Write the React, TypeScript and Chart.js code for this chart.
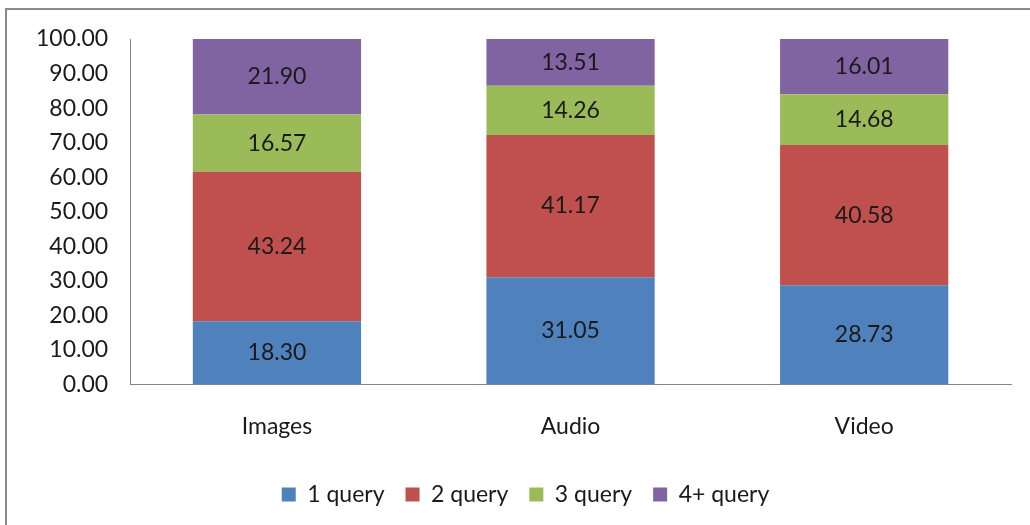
import React, { useEffect, useRef } from "react";
import { Chart, registerables } from "chart.js";

Chart.register(...registerables);

const categories = ["Images", "Audio", "Video"];
const seriesNames = ["1 query", "2 query", "3 query", "4+ query"];
const query1 = [18.3, 31.05, 28.73];
const query2 = [43.24, 41.17, 40.58];
const query3 = [16.57, 14.26, 14.68];
const query4 = [21.9, 13.51, 16.01];
const seriesColors = ["#4F81BD", "#C0504D", "#9BBB59", "#8064A2"];

const FONT = "Lato, 'Open Sans', sans-serif";

const valueLabels = {
  id: "valueLabels",
  afterDatasetsDraw(chart: any) {
    const ctx = chart.ctx;
    ctx.save();
    ctx.font = `23px ${FONT}`;
    ctx.fillStyle = "#1a1a1a";
    ctx.textAlign = "center";
    ctx.textBaseline = "middle";
    chart.data.datasets.forEach((ds: any, di: number) => {
      const meta = chart.getDatasetMeta(di);
      meta.data.forEach((el: any, i: number) => {
        const v = ds.data[i];
        const cy = (el.y + el.base) / 2;
        ctx.fillText(Number(v).toFixed(2), el.x, cy);
      });
    });
    ctx.restore();
  },
};

const legendShift = {
  id: "legendShift",
  afterLayout(chart: any) {
    const lg = chart.legend;
    if (!lg) return;
    lg.left += 13;
    lg.right += 13;
    lg.top -= 6;
    lg.bottom -= 6;
  },
};

export default function App() {
  const ref = useRef<HTMLCanvasElement | null>(null);
  useEffect(() => {
    if (!ref.current) return;
    const data = [query1, query2, query3, query4];
    const chart = new Chart(ref.current, {
      type: "bar",
      data: {
        labels: categories,
        datasets: seriesNames.map((name, k) => ({
          label: name,
          data: data[k],
          backgroundColor: seriesColors[k],
          borderWidth: 0,
          categoryPercentage: 1,
          barPercentage: 0.573,
        })),
      },
      options: {
        responsive: false,
        animation: false,
        layout: { padding: { left: 14, right: 19, top: 39, bottom: 3 } },
        plugins: {
          tooltip: { enabled: false },
          legend: {
            position: "bottom",
            labels: {
              font: { family: FONT, size: 23 },
              color: "#1a1a1a",
              boxWidth: 14,
              boxHeight: 14,
              padding: 21,
            },
          },
        },
        scales: {
          x: {
            stacked: true,
            grid: { display: false, drawTicks: false },
            border: { display: true, color: "#868686", width: 1 },
            ticks: { font: { family: FONT, size: 23 }, color: "#1a1a1a", padding: 28 },
          },
          y: {
            stacked: true,
            min: 0,
            max: 100,
            grid: { display: false, drawTicks: false },
            border: { display: true, color: "#868686", width: 1 },
            ticks: {
              stepSize: 10,
              font: { family: FONT, size: 23 },
              color: "#1a1a1a",
              padding: 22,
              callback: (v: any) => Number(v).toFixed(2),
            },
          },
        },
      },
      plugins: [valueLabels, legendShift],
    });
    return () => chart.destroy();
  }, []);
  return (
    <div style={{ position: "fixed", left: 0, top: 0, width: 1030, height: 525, overflow: "hidden", background: "#fff" }}>
      <div
        style={{
          position: "absolute",
          left: 5,
          top: 8,
          width: 1060,
          height: 560,
          border: "2px solid #8a8a8a",
          boxSizing: "border-box",
        }}
      />
      <canvas ref={ref} width={1030} height={525} style={{ position: "absolute", left: 0, top: 0 }} />
    </div>
  );
}
